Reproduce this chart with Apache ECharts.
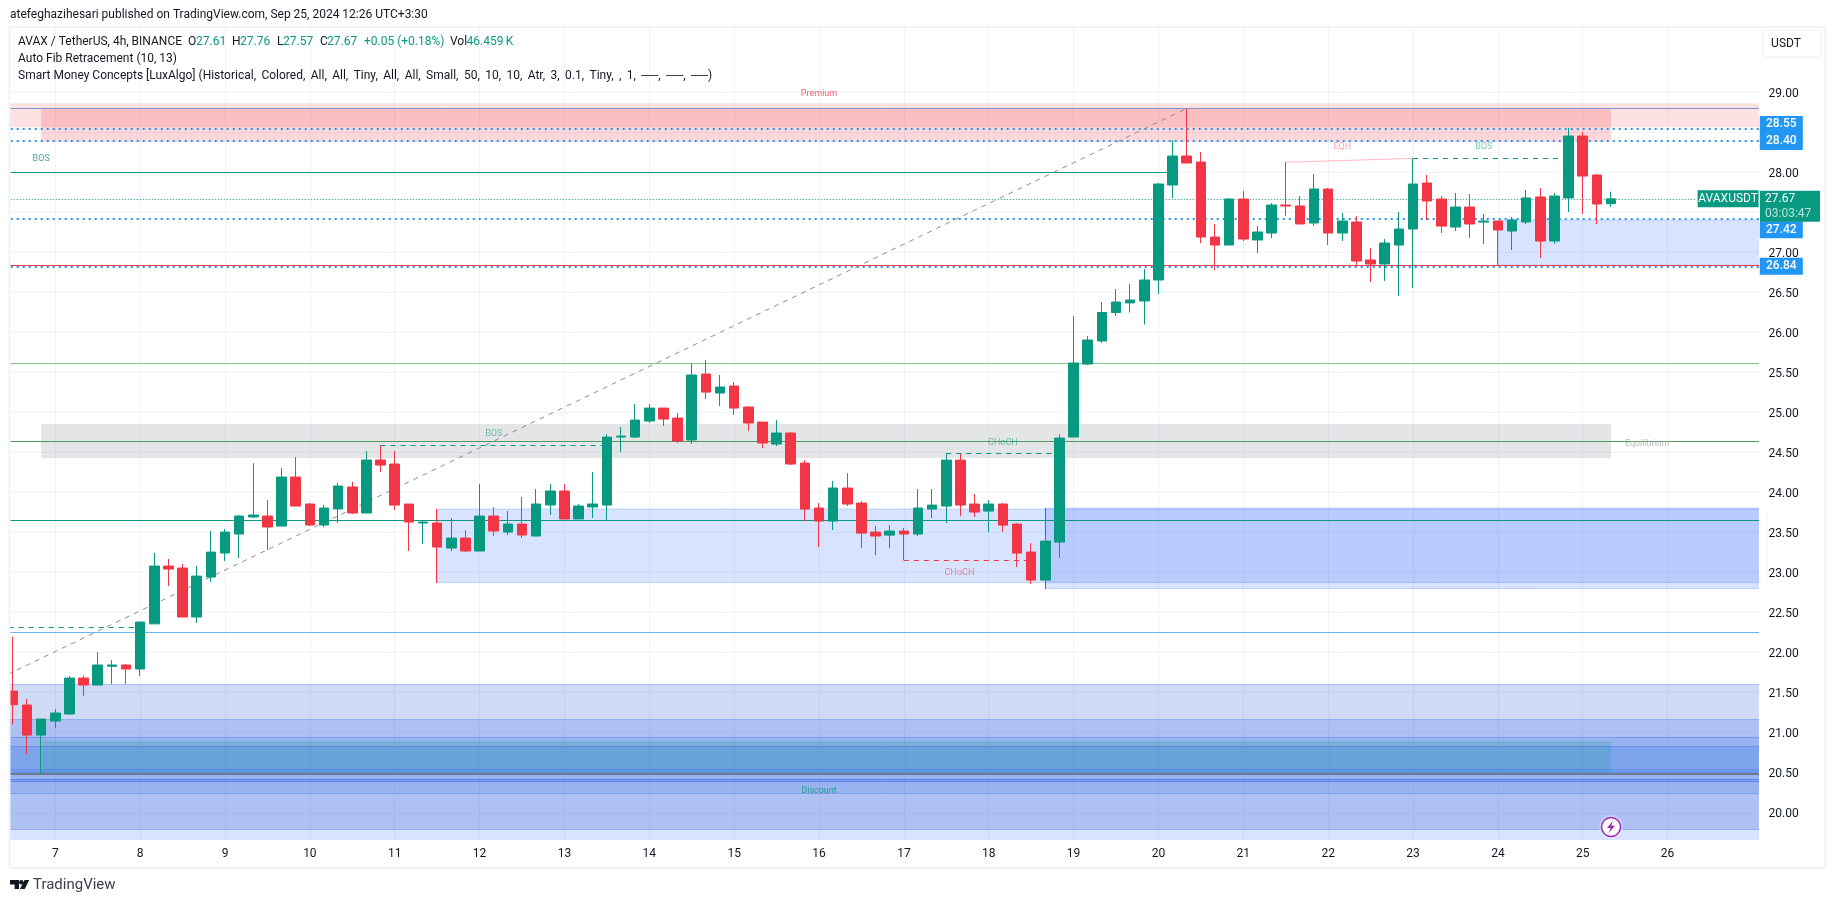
<!DOCTYPE html>
<html><head><meta charset="utf-8">
<style>html,body{margin:0;padding:0;background:#fff}#c{width:1835px;height:903px}</style>
<script src="https://cdn.jsdelivr.net/npm/echarts@6/dist/echarts.min.js"></script>
</head><body><div id="c"></div>
<script>
const dayLabels=['7','8','9','10','11','12','13','14','15','16','17','18','19','20','21','22','23','24','25','26'];
const priceTicks=[19.5,30,0.5];
const opens=[21.52,21.346,20.97,21.146,21.234,21.683,21.596,21.83,21.846,21.796,22.36,23.082,23.057,22.446,22.945,23.245,23.482,23.695,23.707,23.582,24.194,23.857,23.595,23.795,24.07,23.745,24.407,24.357,23.857,23.62,23.62,23.307,23.432,23.27,23.707,23.507,23.607,23.457,23.845,24.02,23.67,23.82,23.845,24.694,24.694,24.894,25.056,24.931,24.657,25.481,25.244,25.331,25.069,24.881,24.607,24.744,24.369,23.807,23.644,24.057,23.869,23.507,23.469,23.519,23.482,23.794,23.832,24.406,23.857,23.769,23.857,23.607,23.257,22.907,23.382,24.694,25.606,25.894,26.25,26.37,26.394,26.656,27.843,28.205,28.13,27.193,27.093,27.668,27.156,27.243,27.593,27.581,27.368,27.793,27.243,27.381,26.906,26.856,27.093,27.293,27.868,27.668,27.318,27.568,27.38,27.393,27.268,27.381,27.693,27.143,27.681,28.455,27.968,27.61];
const closes=[21.35,20.971,21.171,21.246,21.683,21.596,21.846,21.846,21.796,22.383,23.082,23.045,22.446,22.957,23.257,23.507,23.707,23.72,23.57,24.194,23.832,23.595,23.807,24.082,23.745,24.407,24.344,23.845,23.632,23.632,23.32,23.432,23.27,23.707,23.52,23.607,23.47,23.857,24.02,23.67,23.832,23.857,24.694,24.706,24.906,25.056,24.919,24.644,25.469,25.256,25.319,25.056,24.869,24.619,24.744,24.357,23.794,23.644,24.057,23.857,23.494,23.457,23.519,23.482,23.807,23.844,24.406,23.844,23.757,23.857,23.594,23.244,22.907,23.394,24.681,25.619,25.906,26.25,26.381,26.406,26.656,27.855,28.205,28.118,27.193,27.093,27.668,27.168,27.256,27.593,27.581,27.356,27.793,27.243,27.393,26.893,26.856,27.118,27.293,27.855,27.643,27.33,27.568,27.356,27.393,27.281,27.406,27.681,27.143,27.705,28.455,27.955,27.606,27.67];
const lows=[21.10,20.734,20.484,21.059,21.221,21.458,21.596,21.608,21.608,21.708,22.36,22.832,22.446,22.371,22.883,23.145,23.182,23.682,23.282,23.582,23.832,23.582,23.57,23.62,23.732,23.745,24.257,23.782,23.27,23.357,22.87,23.27,23.257,23.27,23.457,23.47,23.432,23.457,23.72,23.67,23.67,23.682,23.657,24.507,24.682,24.869,24.831,24.619,24.607,25.169,25.081,24.969,24.769,24.557,24.582,24.344,23.644,23.319,23.532,23.832,23.307,23.219,23.307,23.153,23.457,23.682,23.619,23.707,23.694,23.507,23.507,23.069,22.857,22.795,23.182,24.694,25.594,25.87,26.206,26.25,26.1,26.481,27.68,28.118,27.118,26.781,27.093,27.143,26.993,27.181,27.456,27.356,27.331,27.093,27.143,26.83,26.631,26.643,26.456,26.556,27.406,27.243,27.268,27.181,27.106,26.839,27.031,27.356,26.931,27.106,27.506,27.481,27.356,27.57];
const highs=[22.20,21.421,21.17,21.296,21.708,21.708,22.008,21.908,21.858,22.383,23.245,23.17,23.107,23.082,23.52,23.545,23.72,24.369,23.907,24.307,24.444,23.87,23.845,24.12,24.132,24.519,24.59,24.519,23.857,23.657,23.795,23.682,23.532,24.107,23.819,23.77,23.945,24.045,24.107,24.107,23.857,24.257,24.732,24.819,25.106,25.106,25.056,24.994,25.614,25.656,25.469,25.381,25.081,24.881,24.906,24.756,24.406,23.869,24.144,24.244,23.894,23.582,23.594,23.557,24.044,24.044,24.49,24.482,23.982,23.907,23.869,23.619,23.369,23.807,24.731,26.206,25.956,26.381,26.544,26.606,26.793,27.868,28.405,28.801,28.255,27.356,27.68,27.768,27.331,27.618,28.13,27.706,27.98,27.805,27.493,27.456,27.056,27.168,27.506,28.176,27.968,27.706,27.743,27.73,27.481,27.393,27.443,27.78,27.805,27.743,28.555,28.505,27.98,27.76];

const UP='#089981',DOWN='#f23645',BLUE='#2196f3',INK='#131722',GRID='#f0f3fa';
const FONT='Roboto';
const firstDayBar=3,barsPerDay=6,barsShown=124;

// zones: [from bar, to bar, top price, bottom price, colour, border]
const zones=[
 [-1,124,28.864,28.564,'rgba(242,54,69,.15)',null],
 [2,113,28.797,28.384,'rgba(242,54,69,.2)',null],
 [2,113,24.857,24.433,'rgba(120,123,134,.2)',null],
 [30,124,23.795,22.876,'rgba(41,98,255,.18)','rgba(41,98,255,.22)'],
 [73,124,23.807,22.80,'rgba(41,98,255,.18)','rgba(41,98,255,.22)'],
 [105,124,27.406,26.84,'rgba(41,98,255,.18)','rgba(41,98,255,.22)'],
 [-1,124,21.604,21.166,'rgba(25,70,205,.2)',null],
 [-1,124,21.166,20.942,'rgba(17,73,217,.34)',null],
 [-1,124,20.942,20.83,'rgba(10,76,219,.42)',null],
 [-1,124,20.83,20.54,'rgba(9,80,222,.52)',null],
 [-1,124,20.54,20.48,'rgba(9,80,235,.58)',null],
 [-1,124,20.48,20.415,'rgba(10,76,219,.42)',null],
 [-1,124,20.415,20.39,'rgba(9,80,222,.52)',null],
 [-1,124,20.39,20.242,'rgba(10,76,219,.42)',null],
 [-1,124,20.242,19.793,'rgba(17,73,217,.34)',null],
 [-1,124,19.793,19.5,'rgba(41,98,255,.18)',null],
 [2,113,20.897,20.485,'rgba(8,153,129,.2)',null]
];
// lines: [from bar, price, to bar, price, colour, width, style]
const EDGE='rgba(30,80,225,.3)';
const DOTS=[2,4];
const lines=[
 [-1,28.80,124,28.80,'#7b97c9',1,'solid'],
 [-1,25.615,124,25.615,'#81c784',1,'solid'],
 [-1,24.64,124,24.64,'#4f9a5c',1,'solid'],
 [-1,23.654,124,23.654,UP,1,'solid'],
 [-1,22.254,124,22.254,'#64b5f6',1,'solid'],
 [-1,28.00,82,28.00,UP,1,'solid'],
 [-1,26.84,124,26.84,DOWN,1,'solid'],
 [-1,21.604,124,21.604,EDGE,1,'solid'],
 [-1,21.166,124,21.166,EDGE,1,'solid'],
 [-1,20.942,124,20.942,EDGE,1,'solid'],
 [-1,20.83,124,20.83,EDGE,1,'solid'],
 [-1,20.54,124,20.54,EDGE,1,'solid'],
 [-1,20.415,124,20.415,'rgba(30,80,225,.5)',1,'solid'],
 [-1,20.39,124,20.39,'rgba(30,80,225,.5)',1,'solid'],
 [-1,20.242,124,20.242,EDGE,1,'solid'],
 [-1,19.793,124,19.793,EDGE,1,'solid'],
 [-1,20.482,124,20.482,'#6d7a92',2,'solid'],
 [-1,28.55,124,28.55,BLUE,2,DOTS],
 [-1,28.40,124,28.40,BLUE,2,DOTS],
 [-1,27.42,124,27.42,BLUE,2,DOTS],
 [-1,26.825,124,26.825,BLUE,2,DOTS],
 [-1,27.67,119,27.67,UP,1,[1,2]],
 [-1,22.317,9,22.317,UP,1,[5,5]],
 [26,24.59,42,24.59,UP,1,[5,5]],
 [66,24.49,74,24.49,UP,1,[5,5]],
 [99,28.176,110,28.176,UP,1,[5,5]],
 [63,23.153,72,23.153,DOWN,1,[5,5]],
 [90,28.127,99,28.176,'rgba(242,54,69,.6)',1,[1,1]],
 [-1,21.675,83,28.80,'#8a8d96',1,[5,5]]
];
// chart annotations: [text, bar, price, colour, x nudge]
const notes=[
 ['Premium',57,28.985,DOWN,0],
 ['BOS',2,28.165,UP,0],
 ['BOS',34,24.73,'rgba(8,153,129,.7)',0],
 ['CHoCH',70,24.62,'rgba(8,153,129,.7)',0],
 ['CHoCH',67,22.995,'rgba(242,54,69,.7)',-1],
 ['EQH',94,28.315,'rgba(242,54,69,.6)',0],
 ['BOS',104,28.315,'rgba(8,153,129,.7)',0],
 ['Equilibrium',115,24.615,'#a8abb5',8],
 ['Discount',57,20.27,UP,0]
];
// price tags: [text, price, dy]
const blueTags=[['28.55',28.55,-4],['28.40',28.40,1],['27.42',27.42,11],['26.84',26.84,1]];
const lastPrice=27.67,countdown='03:03:47',symbolName='AVAXUSDT';
const headerTexts=[
 ['atefeghazihesari published on TradingView.com, Sep 25, 2024 12:26 UTC+3:30',10,15,INK],
 ['AVAX / TetherUS, 4h, BINANCE',18,41.5,INK],
 ['O',188,41.5,INK],['27.61',196,41.5,UP],
 ['H',232,41.5,INK],['27.76',240,41.5,UP],
 ['L',277,41.5,INK],['27.57',283,41.5,UP],
 ['C',320,41.5,INK],['27.67',327,41.5,UP],
 ['+0.05 (+0.18%)',364,41.5,UP],
 ['Vol',450,41.5,INK],['46.459\u2009K',466.5,41.5,UP],
 ['Auto Fib Retracement (10, 13)',18,59,INK],
 ['Smart Money Concepts [LuxAlgo] (Historical, \u2009Colored, \u2009All, \u2009All, \u2009Tiny, \u2009All, \u2009All, \u2009Small, \u200950, \u200910, \u200910, \u2009Atr, \u20093, \u20090.1, \u2009Tiny, \u2009, \u20091, \u2009\u2500\u2500, \u2009\u2500\u2500, \u2009\u2500\u2500)',18,75.5,INK]
];

// x: the slot before bar 0 falls off the pane's left edge, the slot of bar 124 past its right edge
const categories=[''];
for(let b=0;b<=barsShown;b++){const k=(b-firstDayBar)/barsPerDay;categories.push(Number.isInteger(k)&&k>=0&&k<dayLabels.length?dayLabels[k]:'');}
const X=b=>b+1;
const candleData=[['-','-','-','-']].concat(opens.map((o,i)=>[o,closes[i],lows[i],highs[i]]));
const step=14.143,left=12.87-step,pxPerPrice=80.04,y29=92.4;
const gridTop=y29-(priceTicks[1]-29)*pxPerPrice,gridH=(priceTicks[1]-priceTicks[0])*pxPerPrice;
const gridW=step*(categories.length-1);
const splitColors=[];
for(let p=priceTicks[0];p<=priceTicks[1]+1e-9;p+=priceTicks[2])splitColors.push(p<19.9||p>29.1?'rgba(0,0,0,0)':GRID);

const COVER={type:'rect',silent:true,z:20};
const chart=echarts.init(document.getElementById('c'),null,{renderer:'canvas'});
chart.setOption({
 animation:false,backgroundColor:'#fff',textStyle:{fontFamily:FONT},
 grid:{left:left,top:gridTop,width:gridW,height:gridH,containLabel:false,outerBoundsMode:'none'},
 xAxis:[
  {type:'category',data:categories,boundaryGap:false,axisLine:{show:false},axisTick:{show:false},axisLabel:{show:false},
   splitLine:{show:true,interval:(i,v)=>v!=='',lineStyle:{color:GRID,width:1}}},
  {type:'category',data:categories,boundaryGap:false,position:'bottom',z:30,axisLine:{show:false},axisTick:{show:false},splitLine:{show:false},
   axisLabel:{show:true,interval:0,margin:1,verticalAlign:'middle',color:INK,fontSize:12,fontFamily:FONT,hideOverlap:false}}
 ],
 yAxis:{type:'value',position:'right',min:priceTicks[0],max:priceTicks[1],interval:priceTicks[2],
  axisLine:{show:false},axisTick:{show:false},
  axisLabel:{margin:2,color:INK,fontSize:12,fontFamily:FONT,showMinLabel:true,showMaxLabel:true,
   rich:{p:{color:INK,fontSize:12,fontFamily:FONT,padding:[3,0,0,0]}},
   formatter:v=>(v>=20&&v<=29)?'{p|'+v.toFixed(2)+'}':''},
  splitLine:{show:true,lineStyle:{color:splitColors,width:1}}},
 series:[
  {type:'line',name:'levels',data:[],z:2,silent:true,
   markArea:{silent:true,data:zones.map(z=>[
     {xAxis:X(z[0]),yAxis:z[2],itemStyle:{color:z[4],borderColor:z[5]||'transparent',borderWidth:z[5]?1:0}},
     {xAxis:X(z[1]),yAxis:z[3]}])},
   markLine:{silent:true,symbol:'none',animation:false,label:{show:false},data:lines.map(l=>[
     {xAxis:X(l[0]),yAxis:l[1],lineStyle:{color:l[4],width:l[5],type:l[6]}},
     {xAxis:X(l[2]),yAxis:l[3]}])}},
  {type:'candlestick',name:'AVAX / TetherUS',data:candleData,barWidth:10,z:5,silent:true,
   itemStyle:{color:UP,color0:DOWN,borderColor:UP,borderColor0:DOWN,borderWidth:1}},
  {type:'scatter',name:'notes',z:6,symbolSize:1,silent:true,
   itemStyle:{color:'rgba(0,0,0,0)'},
   data:notes.map(n=>({value:[X(n[1]),n[2]],label:{show:true,position:'inside',offset:[n[4],0],formatter:n[0],color:n[3],fontSize:9,fontFamily:FONT}}))},
  {type:'scatter',name:'tags',z:30,clip:false,silent:true,symbol:'rect',itemStyle:{opacity:1},
   data:[
    ...blueTags.map(t=>({value:[X(barsShown),t[1]],symbolSize:[43,17],symbolOffset:[14.7,t[2]],itemStyle:{color:BLUE,opacity:1},
      label:{show:true,position:'inside',formatter:t[0],color:'#fff',fontSize:12,fontFamily:FONT,fontWeight:500}})),
    {value:[X(barsShown),lastPrice],symbolSize:[61,17],symbolOffset:[-38.5,0],itemStyle:{color:UP,opacity:1},
      label:{show:true,position:'inside',formatter:symbolName,color:'#fff',fontSize:12,fontFamily:FONT}},
    {value:[X(barsShown),lastPrice],symbolSize:[60,31],symbolOffset:[23.4,7.5],itemStyle:{color:UP,opacity:1},
      label:{show:true,position:'inside',formatter:'{a|'+lastPrice.toFixed(2)+'}\n{b|'+countdown+'}',
       rich:{a:{color:'#fff',fontSize:12,width:50,align:'left',lineHeight:15,fontFamily:FONT},b:{color:'#b9e3da',fontSize:12,width:50,align:'left',lineHeight:15,fontFamily:FONT}}}},
    {value:[X(113),19.822],symbol:'circle',symbolSize:19,itemStyle:{color:'#fff',borderColor:'#9c27b0',borderWidth:1.5,opacity:1,shadowColor:'#fff',shadowBlur:3}},
    {value:[X(113),19.822],symbol:'path://M6 0 L1 7 L4.2 7 L2.5 12 L8 4.8 L4.8 4.8 Z',symbolSize:[8,12],itemStyle:{color:'#9c27b0',opacity:1}}
   ]}
 ],
 graphic:{elements:[
  {...COVER,shape:{x:0,y:0,width:1835,height:27},style:{fill:'#fff'}},
  {...COVER,shape:{x:0,y:840,width:1835,height:63},style:{fill:'#fff'}},
  {...COVER,shape:{x:0,y:0,width:10,height:903},style:{fill:'#fff'}},
  {...COVER,shape:{x:1759,y:0,width:8,height:903},style:{fill:'#fff'}},
  {...COVER,z:21,shape:{x:9.5,y:27,width:1815.5,height:841},style:{fill:'transparent',stroke:GRID,lineWidth:2}},
  {type:'rect',silent:true,z:31,shape:{x:1763,y:30,width:58,height:27,r:5},style:{fill:'#fff',stroke:GRID,lineWidth:1.5}},
  {type:'text',silent:true,z:32,x:1786,y:44,style:{text:'USDT',fill:INK,font:'12px '+FONT,align:'center',verticalAlign:'middle'}},
  ...headerTexts.map(t=>({type:'text',silent:true,z:32,x:t[1],y:t[2],style:{text:t[0],fill:t[3],font:'12px '+FONT,align:'left',verticalAlign:'middle'}})),
  {type:'polygon',silent:true,z:32,shape:{points:[[10,880],[19,880],[19,889],[14.6,889],[14.6,884.5],[10,884.5]]},style:{fill:INK}},
  {type:'circle',silent:true,z:32,shape:{cx:21.3,cy:882.2,r:2.2},style:{fill:INK}},
  {type:'polygon',silent:true,z:32,shape:{points:[[24.6,880],[29.2,880],[24.8,889],[19.9,889]]},style:{fill:INK}},
  {type:'text',silent:true,z:32,x:33,y:885.5,style:{text:'TradingView',fill:'#3a3e4a',font:'15px '+FONT,align:'left',verticalAlign:'middle'}}
 ]}
});
</script></body></html>
